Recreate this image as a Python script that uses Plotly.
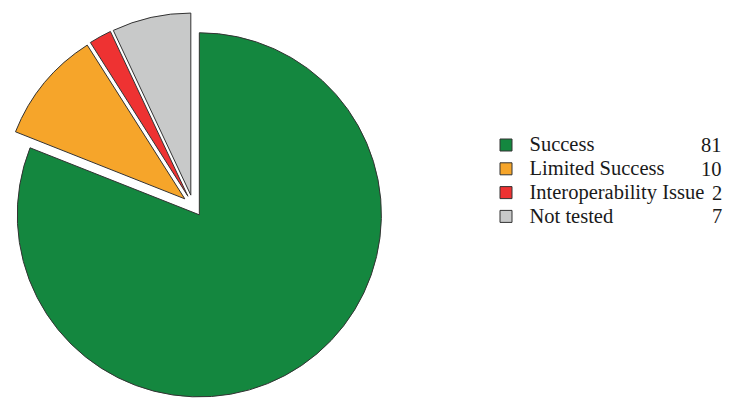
import plotly.graph_objects as go

labels = ["Success", "Limited Success", "Interoperability Issue", "Not tested"]
values = [81, 10, 2, 7]
colors = ["#14873F", "#F6A52A", "#EE3232", "#C8C9C9"]
pulls = [0.06, 0.06, 0.06, 0.06]

W, H = 729, 400
label_font = 20.5
legend_font = 16
row_h = legend_font * 1.3 + 3
first_row_px = 145
legend_left_px = 482.5

legend_labels = [f'<span style="font-size:{label_font}px">{l}</span>' for l in labels]

fig = go.Figure()
fig.add_trace(go.Pie(
    labels=legend_labels,
    values=values,
    sort=False,
    direction="clockwise",
    rotation=0,
    pull=pulls,
    marker=dict(colors=colors, line=dict(color="#333333", width=1)),
    textinfo="none",
    hoverinfo="label+value",
    domain=dict(x=[0.2 / W, 386.2 / W], y=[1 - 398.8 / H, 1 - 12.8 / H]),
))

annotations = []
for i, v in enumerate(values):
    ypx = first_row_px + i * row_h
    annotations.append(dict(
        x=724 / W, y=1 - ypx / H, xref="paper", yref="paper",
        xanchor="right", yanchor="middle", showarrow=False,
        text=str(v), font=dict(family="Liberation Serif", size=label_font, color="#1a1a1a"),
    ))

fig.update_layout(
    width=W, height=H,
    margin=dict(l=0, r=0, t=0, b=0),
    paper_bgcolor="white",
    plot_bgcolor="white",
    showlegend=True,
    legend=dict(
        x=legend_left_px / W, xanchor="left",
        y=1 - (first_row_px - row_h / 2 - 5) / H, yanchor="top",
        font=dict(family="Liberation Serif", size=legend_font, color="#1a1a1a"),
        bgcolor="rgba(0,0,0,0)",
        itemwidth=37,
        traceorder="normal",
    ),
    annotations=annotations,
)

fig.write_html("out.html")
